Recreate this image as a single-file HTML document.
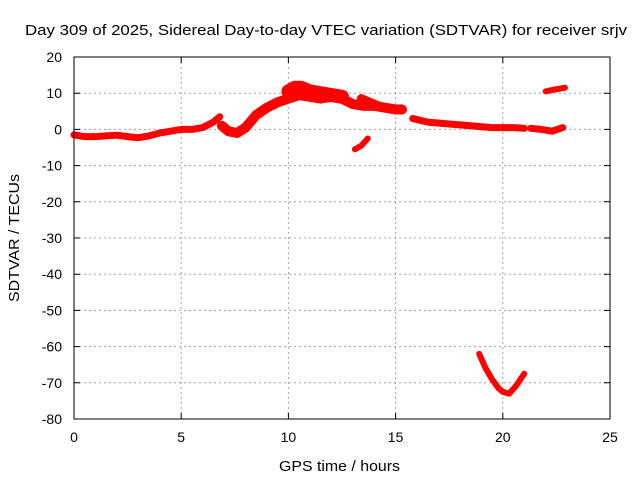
<!DOCTYPE html>
<html><head><meta charset="utf-8"><style>
body{margin:0;background:#fff;}
svg text{font-family:"Liberation Sans",Arial,sans-serif;font-size:14px;fill:#000;}
</style></head><body>
<svg id="chart" width="640" height="480" xmlns="http://www.w3.org/2000/svg">
<rect width="640" height="480" fill="#fff"/>
<g id="grid"></g>
<g id="ticks"></g>
<g id="series"></g>
<rect x="74" y="57" width="536" height="362" fill="none" stroke="#000" stroke-width="1"/>
<text x="25" y="35" textLength="602" lengthAdjust="spacingAndGlyphs" style="font-size:15px">Day 309 of 2025, Sidereal Day-to-day VTEC variation (SDTVAR) for receiver srjv</text>
<text x="279" y="471" textLength="121" lengthAdjust="spacingAndGlyphs" style="font-size:15px">GPS time / hours</text>
<text transform="translate(19,302) rotate(-90)" textLength="128" lengthAdjust="spacingAndGlyphs" style="font-size:15px">SDTVAR / TECUs</text>
</svg>
<script>
const xTicks=[0,5,10,15,20,25];
const yTicks=[20,10,0,-10,-20,-30,-40,-50,-60,-70,-80];
const seg1T=[0,0.5,1,1.5,2,2.5,3,3.5,4,4.5,5,5.5,6,6.5,6.8];
const seg1V=[-1.5,-2,-2,-1.8,-1.6,-2,-2.3,-1.8,-1,-0.5,0,0,0.5,2,3.5];
const seg2T=[6.9,7.2,7.6,8,8.5,9,9.5,10,10.5,11,11.5,12,12.5,13,13.5,14,14.5,15,15.3];
const seg2V=[1,-0.5,-1,0.5,4,6,7.5,8.5,9.5,9,8.5,9,8.5,7,6.5,6.5,6,5.5,5.5];
const seg3T=[10,10.3,10.6,11,11.5,12,12.5];
const seg3V=[10.5,11.5,11.5,10.5,10,9.5,9];
const seg3bT=[13.4,13.8,14.2];
const seg3bV=[8.5,7.5,6.5];
const seg4T=[13.1,13.4,13.7];
const seg4V=[-5.5,-4.5,-2.5];
const seg5T=[15.8,16.5,17.5,18.5,19.5,20.5,21];
const seg5V=[3,2,1.5,1,0.5,0.5,0.3];
const seg6T=[21.3,21.8,22.3,22.8];
const seg6V=[0.3,0,-0.5,0.5];
const seg7T=[22,22.4,22.9];
const seg7V=[10.5,11,11.5];
const seg8T=[18.9,19.2,19.5,19.8,20,20.3,20.6,21];
const seg8V=[-62,-66,-69,-71.5,-72.5,-73,-71,-67.5];
const X=t=>74+t/25*536, Y=v=>57+(20-v)/100*362;
const ns="http://www.w3.org/2000/svg";
const grid=document.getElementById('grid'),ticks=document.getElementById('ticks'),ser=document.getElementById('series');
function mk(tag,a,p){const e=document.createElementNS(ns,tag);for(const k in a)e.setAttribute(k,a[k]);p.appendChild(e);return e;}
xTicks.forEach(t=>{const x=X(t);
 if(t>0&&t<25){const g=mk('line',{x1:x,x2:x,y1:57,y2:419,stroke:'#a0a0a0','stroke-dasharray':'2,3'},grid);
 }
 const tk=mk('path',{d:`M${x},419v-6M${x},57v6`,stroke:'#000'},ticks);
 
 const l=mk('text',{x:x,y:442,'text-anchor':'middle'},ticks);l.textContent=t;
 });
yTicks.forEach(v=>{const y=Y(v);
 if(v<20&&v>-80){const g=mk('line',{x1:74,x2:610,y1:y,y2:y,stroke:'#a0a0a0','stroke-dasharray':'2,3'},grid);
 }
 const tk=mk('path',{d:`M74,${y}h6M610,${y}h-6`,stroke:'#000'},ticks);
 
 const l=mk('text',{x:62,y:y+5,'text-anchor':'end'},ticks);l.textContent=v;
 });
function seg(T,V,w){const d=T.map((t,i)=>(i?'L':'M')+X(t)+','+Y(V[i])).join('');
 const p=mk('path',{d:d,fill:'none',stroke:'#f00','stroke-width':w,'stroke-linecap':'round','stroke-linejoin':'round'},ser);
 }
seg(seg1T,seg1V,7);seg(seg2T,seg2V,10);seg(seg3T,seg3V,14);seg(seg3bT,seg3bV,9);seg(seg4T,seg4V,6);
seg(seg5T,seg5V,7);seg(seg6T,seg6V,7);seg(seg7T,seg7V,6);seg(seg8T,seg8V,6);
</script>
</body></html>
